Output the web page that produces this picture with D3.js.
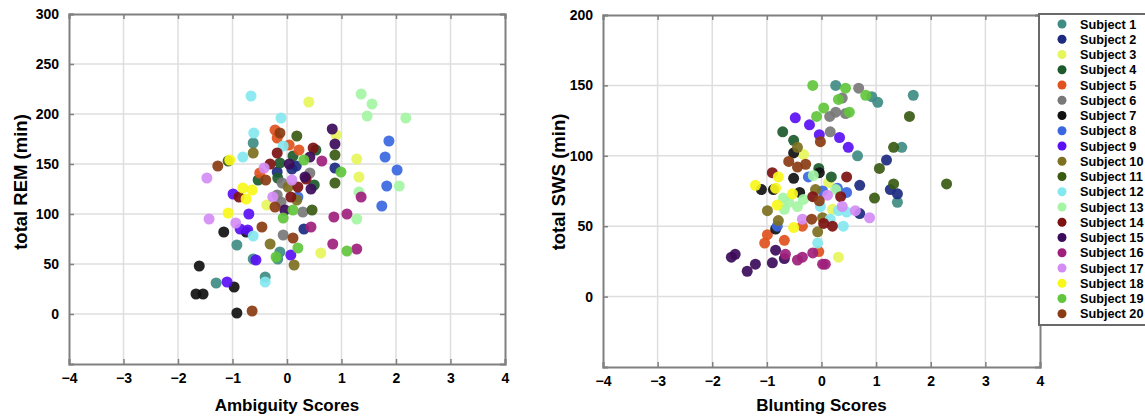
<!DOCTYPE html>
<html>
<head>
<meta charset="utf-8">
<script src="https://cdn.jsdelivr.net/npm/d3@7"></script>
<style>
  body { margin: 0; background: #fff; }
  svg text { font-family: "Liberation Sans", Arial, sans-serif; font-weight: bold; fill: #000; }
</style>
</head>
<body>
<svg id="chart" width="1145" height="417"></svg>
<script>
// subject names (legend)
var subjects = ["Subject 1","Subject 2","Subject 3","Subject 4","Subject 5","Subject 6","Subject 7",
  "Subject 8","Subject 9","Subject 10","Subject 11","Subject 12","Subject 13","Subject 14",
  "Subject 15","Subject 16","Subject 17","Subject 18","Subject 19","Subject 20"];

// left panel: ambiguity score vs total REM, one list per subject
var ambiguity = [
  [-0.62,-0.92,-0.13,-0.17,-0.62,-0.40,-1.30],
  [-0.18,0.09,0.17,0.88,0.31],
  [0.40,0.90,1.28,1.32,-0.37,0.62],
  [0.11,-0.13,-0.53,-0.17,0.53,0.50],
  [-0.22,-0.18,0.04,0.22,-0.50],
  [0.42,-0.09,-0.18,-0.11,0.29,-0.07],
  [-1.16,-0.75,-1.61,-0.97,-1.67,-1.54,-0.92],
  [1.87,1.80,2.02,1.83,1.74,0.20],
  [-0.99,-0.70,-0.86,-0.72,-0.57,0.07,-1.10],
  [-0.62,0.02,0.18,-0.31,0.13],
  [0.18,0.88,0.88,0.46,-1.08],
  [-0.66,-0.11,-0.61,-0.07,-0.81,-0.62,-0.40],
  [1.36,1.56,1.47,2.18,2.06,1.32,1.28],
  [-0.18,0.48,-0.31,0.20,0.07,-0.88,0.35],
  [0.83,0.88,0.42,0.04,0.33,0.44,-0.04],
  [0.64,1.36,0.86,1.10,0.44,0.84,1.28],
  [-1.47,-1.43,-0.94,-0.42,0.09,-0.26],
  [-1.05,-0.81,-0.64,-0.75,-1.08],
  [0.31,0.99,-0.07,0.11,0.20,-0.20,1.10],
  [-0.13,-1.27,-0.39,-0.22,-0.46,0.11,-0.64]
];
var totalREM = [
  [171,69,62,55,55,37,31],
  [142,145,148,146,85],
  [212,179,155,137,109,61],
  [158,151,134,136,164,129],
  [184,176,169,164,141],
  [141,131,119,112,102,79],
  [82,82,48,27,20,20,1],
  [173,157,144,128,108,117],
  [120,100,85,84,54,59,32],
  [161,127,114,70,49],
  [178,159,131,104,153],
  [218,196,181,168,157,78,32],
  [220,210,198,196,128,122,95],
  [161,166,150,127,117,117,135],
  [185,170,157,150,137,125,104],
  [153,117,97,100,87,70,65],
  [136,95,91,146,134,117],
  [154,126,124,115,101],
  [154,142,96,104,66,57,63],
  [181,148,134,107,87,76,3]
];

// right panel: blunting score vs total SWS, one list per subject
var blunting = [
  [0.26,0.92,1.03,1.68,0.66,1.47,1.39],
  [1.19,0.70,1.26,1.39,0.70],
  [-0.33,0.13,0.20,0.31],
  [-0.71,-0.51,-0.05,0.18],
  [-0.99,-1.04,-0.68,-0.35,-0.05],
  [0.68,0.38,0.26,0.44,0.15,0.16],
  [-0.51,-0.51,-1.10,-0.40,-0.04,-0.84,-0.88],
  [-0.24,0.02,0.29,0.46,-0.81],
  [-0.48,-0.22,-0.04,0.33,0.49],
  [-0.44,-0.11,-0.99,-0.79,0.02,-0.07],
  [1.61,1.32,1.06,1.32,0.97,2.29],
  [-0.02,0.31,0.46,0.40,-0.07,0.16],
  [-0.15,0.26,-0.70,-0.60,-0.68,-0.44,-0.33],
  [-0.90,0.46,0.35,-0.16,0.04,0.20],
  [-1.58,-1.65,-1.21,-1.36,-0.84,-0.68,-0.90],
  [-0.66,-0.44,-0.35,-0.16,0.02,0.07],
  [0.11,0.38,0.62,0.88,-0.35],
  [-0.79,-1.21,-0.84,-0.53,-0.81,-0.51],
  [-0.16,0.44,0.81,0.31,0.04,-0.09,0.51],
  [-0.02,-0.60,-0.44,-0.29,-0.18,-0.04]
];
var totalSWS = [
  [150,142,138,143,100,106,67],
  [97,79,76,73,59],
  [101,81,62,28],
  [117,111,91,85],
  [44,38,40,50,32],
  [148,141,131,130,128,117],
  [102,84,76,74,88,48,76],
  [85,75,77,74,50],
  [127,122,115,113,106],
  [106,76,61,54,56,46],
  [128,106,91,80,70,80],
  [64,61,60,50,38,55],
  [86,76,70,67,62,64,69],
  [88,85,71,71,52,50],
  [30,28,23,18,33,27,24],
  [30,26,28,31,23,23],
  [72,64,61,56,55],
  [85,79,77,73,65,49],
  [150,148,143,140,134,128,131],
  [110,96,92,94,55,68]
];

var xTicks = [-4,-3,-2,-1,0,1,2,3,4];
var remTicks = [0,50,100,150,200,250,300];
var swsTicks = [0,50,100,150,200];

var colors = ["#3f8c84","#1c2a80","#e6f55a","#1d5a2c","#e0521e","#787878","#111111","#3a66e0",
  "#5a0ff5","#7d7020","#3a5a12","#84e8ef","#a5f5a5","#7d1212","#3c0c5a","#9e1f7c",
  "#d48cf5","#f7f71a","#62c63c","#8a3c14"];

var svg = d3.select("#chart");

function drawPanel(p){
  var x = d3.scaleLinear().domain([-4,4]).range([p.left, p.right]);
  var y = d3.scaleLinear().domain(p.yDomain).range([p.bottom, p.top]);
  var g = svg.append("g");

  // grid
  g.selectAll("line.vgrid").data(xTicks.slice(1,-1)).enter().append("line")
    .attr("x1", function(d){ return x(d); }).attr("x2", function(d){ return x(d); })
    .attr("y1", p.top).attr("y2", p.bottom)
    .attr("stroke", "#dedede").attr("stroke-width", 1.5);
  g.selectAll("line.hgrid").data(p.yTicks.filter(function(d){ return d < p.yDomain[1]; })).enter().append("line")
    .attr("x1", p.left).attr("x2", p.right)
    .attr("y1", function(d){ return y(d); }).attr("y2", function(d){ return y(d); })
    .attr("stroke", "#dedede").attr("stroke-width", 1.5);

  // inward ticks on all four sides
  var axB = g.append("g").attr("transform", "translate(0," + p.bottom + ")")
    .call(d3.axisBottom(x).tickValues(xTicks).tickSize(-5).tickPadding(9).tickFormat(d3.format("d")));
  var axT = g.append("g").attr("transform", "translate(0," + p.top + ")")
    .call(d3.axisTop(x).tickValues(xTicks).tickSize(-5).tickFormat(""));
  var axL = g.append("g").attr("transform", "translate(" + p.left + ",0)")
    .call(d3.axisLeft(y).tickValues(p.yTicks).tickSize(-5).tickPadding(10).tickFormat(d3.format("d")));
  var axR = g.append("g").attr("transform", "translate(" + p.right + ",0)")
    .call(d3.axisRight(y).tickValues(p.yTicks).tickSize(-5).tickFormat(""));
  [axB, axT, axL, axR].forEach(function(a){
    a.selectAll("path.domain").attr("stroke", "#808080").attr("stroke-width", 2);
    a.selectAll(".tick line").attr("stroke", "#808080").attr("stroke-width", 1.5);
    a.selectAll("text").style("font-size", "14px").style("font-weight", "bold")
      .style("font-family", "'Liberation Sans', Arial, sans-serif").attr("fill", "#000");
  });

  // points, subject by subject
  p.xs.forEach(function(xs, si){
    var pts = xs.map(function(v, i){ return [v, p.ys[si][i]]; });
    g.selectAll("circle.s" + si).data(pts).enter().append("circle")
      .attr("cx", function(d){ return x(d[0]); })
      .attr("cy", function(d){ return y(d[1]); })
      .attr("r", 5.5)
      .attr("fill", colors[si])
      .attr("fill-opacity", 0.92);
  });

  g.append("text").attr("x", (p.left + p.right) / 2).attr("y", 411)
    .attr("text-anchor", "middle").style("font-size", "17px").text(p.xLabel);
  g.append("text").attr("transform", "translate(" + p.yLabelX + "," + p.yLabelY + ") rotate(-90)")
    .attr("text-anchor", "middle").style("font-size", "18.5px").text(p.yLabel);
}

drawPanel({left: 69, right: 505, top: 14, bottom: 364, yDomain: [-50, 300], yTicks: remTicks,
  xs: ambiguity, ys: totalREM, xLabel: "Ambiguity Scores", yLabel: "total REM (min)", yLabelX: 27, yLabelY: 182});
drawPanel({left: 603, right: 1040, top: 15, bottom: 367, yDomain: [-50, 200], yTicks: swsTicks,
  xs: blunting, ys: totalSWS, xLabel: "Blunting Scores", yLabel: "total SWS (min)", yLabelX: 565, yLabelY: 182});

// legend
var leg = svg.append("g");
leg.append("rect").attr("x", 1039).attr("y", 14).attr("width", 120).attr("height", 311)
  .attr("fill", "#fff").attr("stroke", "#6a6a6a").attr("stroke-width", 2);
var rows = leg.selectAll("g.row").data(subjects).enter().append("g")
  .attr("transform", function(d, i){ return "translate(0," + (24 + i * 15.25) + ")"; });
rows.append("circle").attr("cx", 1062).attr("cy", 0).attr("r", 4.5)
  .attr("fill", function(d, i){ return colors[i]; });
rows.append("text").attr("x", 1080).attr("y", 4.5).style("font-size", "12.7px").text(function(d){ return d; });
</script>
</body>
</html>
